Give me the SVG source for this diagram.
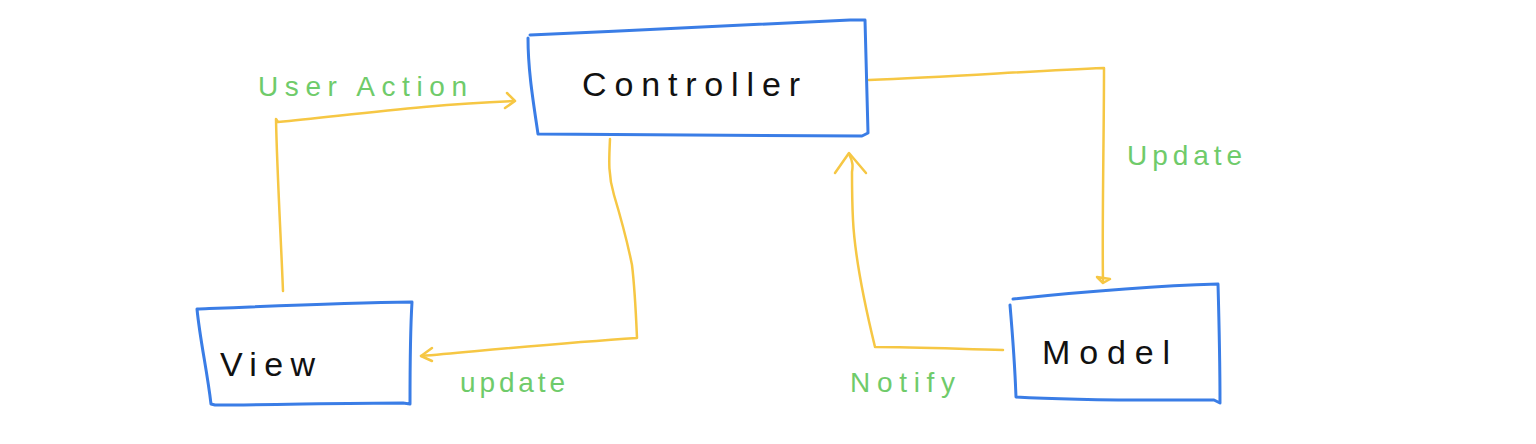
<svg xmlns="http://www.w3.org/2000/svg" width="1536" height="444" viewBox="0 0 1536 444">
<style>
.box{fill:none;stroke:#3a7de6;stroke-width:3;stroke-linecap:round;stroke-linejoin:round}
.con{fill:none;stroke:#f6c744;stroke-width:2.5;stroke-linecap:round;stroke-linejoin:round}
.lbl{fill:#6fcb6a;font-family:"Liberation Sans",sans-serif;font-size:28px}
.txt{fill:#111;font-family:"Liberation Sans",sans-serif;font-size:34px}
</style>
<rect width="1536" height="444" fill="#fff"/>
<g id="connectors">
  <g id="user-action">
    <path class="con" d="M283,291 C281,240 277,170 276,119 L278,122 C350,115 430,104 514,101"/>
    <path class="con" d="M507,93 L515,101 L505,108"/>
    <text class="lbl" x="258" y="96" textLength="209" lengthAdjust="spacing">User  Action</text>
  </g>
  <g id="update-view">
    <path class="con" d="M610,139 C609,160 608,175 614,195 C620,215 628,245 632,265 C635,290 636,315 637,338 C560,343 490,350 421,356"/>
    <path class="con" d="M432,348 L421,356 L432,361"/>
    <text class="lbl" x="460" y="392" textLength="105" lengthAdjust="spacing">update</text>
  </g>
  <g id="update-model">
    <path class="con" d="M869,80 C950,77 1030,71 1104,68 C1104,140 1102,220 1103,282"/>
    <path class="con" d="M1097,277 L1103,283 L1110,279 Z"/>
    <text class="lbl" x="1127" y="165" textLength="115" lengthAdjust="spacing">Update</text>
  </g>
  <g id="notify">
    <path class="con" d="M1003,350 C960,349 915,347 875,347 C866,310 855,260 853,220 C852,200 852,185 852,172 C853,166 853,162 849,154"/>
    <path class="con" d="M835,173 L849,153 L866,173"/>
    <text class="lbl" x="850" y="392" textLength="105" lengthAdjust="spacing">Notify</text>
  </g>
</g>
<g id="controller">
  <path class="box" d="M530,35 C640,30 760,25 850,20 L865,20 C866,60 867,100 868,133 L862,136 C750,136 640,134 538,134 C533,100 528,70 528,38"/>
  <text class="txt" x="582" y="96" textLength="218" lengthAdjust="spacing">Controller</text>
</g>
<g id="view">
  <path class="box" d="M197,309 C270,306 340,303 412,302 C410,335 410,370 410,404 L403,403 C340,403 270,405 215,405 L211,404 C207,370 200,340 197,309 Z"/>
  <text class="txt" x="220" y="376" textLength="95" lengthAdjust="spacing">View</text>
</g>
<g id="model">
  <path class="box" d="M1013,299 C1080,292 1150,286 1218,284 C1219,320 1220,360 1220,403 L1214,400 C1150,400 1080,401 1016,397 C1015,370 1013,340 1010,305"/>
  <text class="txt" x="1042" y="364" textLength="128" lengthAdjust="spacing">Model</text>
</g>
</svg>
